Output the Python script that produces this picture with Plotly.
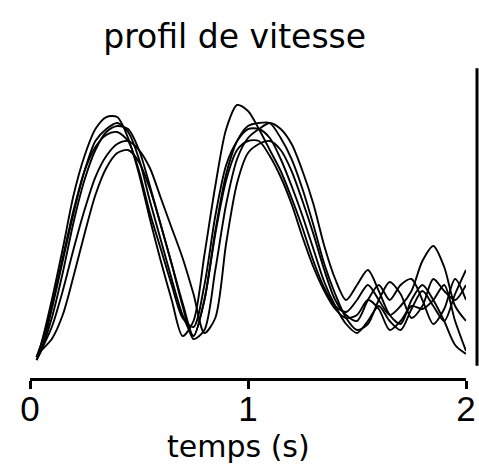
import plotly.graph_objects as go

# time grid (s)
t = [0.03, 0.05, 0.10, 0.15, 0.20, 0.25, 0.30, 0.35, 0.40, 0.45, 0.50,
     0.55, 0.60, 0.65, 0.70, 0.75, 0.80, 0.85, 0.90, 0.95, 1.00,
     1.05, 1.10, 1.15, 1.20, 1.25, 1.30, 1.35, 1.40, 1.45, 1.50,
     1.55, 1.60, 1.65, 1.70, 1.75, 1.80, 1.85, 1.90, 1.95, 2.00]

# velocity profiles (arbitrary units)
v1 = [7, 11, 26, 43, 61, 74, 83, 87, 87, 80, 68, 53, 39, 26, 14, 19, 41, 64, 83, 91, 89,
      83, 76, 69, 60, 50, 39, 30, 24, 22, 26, 31, 26, 21, 24, 29, 39, 44, 37, 24, 19]
v2 = [7, 9, 23, 39, 55, 69, 79, 83, 85, 82, 73, 59, 46, 33, 21, 14, 26, 49, 68, 79, 84,
      85, 85, 80, 73, 63, 51, 38, 28, 20, 16, 18, 26, 32, 28, 20, 24, 33, 29, 26, 31]
v3 = [6, 9, 20, 35, 52, 66, 76, 82, 84, 83, 76, 64, 51, 38, 24, 13, 16, 36, 58, 73, 80,
      83, 85, 83, 78, 69, 58, 44, 33, 26, 31, 36, 29, 21, 18, 26, 31, 26, 19, 11, 8]
v4 = [7, 11, 24, 40, 56, 69, 77, 81, 82, 79, 69, 55, 43, 31, 20, 17, 31, 54, 71, 79, 83,
      83, 80, 73, 64, 54, 43, 32, 24, 18, 15, 19, 24, 19, 16, 23, 29, 24, 19, 28, 36]
v5 = [6, 9, 17, 29, 43, 56, 67, 74, 78, 79, 76, 70, 60, 50, 40, 28, 15, 20, 45, 65, 75,
      78, 79, 76, 69, 59, 48, 36, 26, 21, 19, 26, 31, 26, 31, 33, 26, 18, 23, 33, 26]
v6 = [7, 9, 13, 21, 34, 48, 61, 70, 75, 76, 72, 63, 51, 38, 25, 14, 26, 48, 66, 76, 79,
      79, 74, 67, 58, 47, 37, 29, 23, 20, 21, 26, 23, 16, 19, 24, 23, 26, 31, 19, 9]

profiles = [v1, v2, v3, v4, v5, v6]
tick_vals = [0, 1, 2]
tick_text = ["0", "1", "2"]

fig = go.Figure()
for v in profiles:
    fig.add_trace(go.Scatter(x=t, y=v, mode="lines",
                             line=dict(color="black", width=1.9, shape="spline", smoothing=0.8),
                             showlegend=False, hoverinfo="skip"))

# plot area spans 30..477 px; the time axis occupies 30..466 px
x_dom_end = 436 / 447

fig.update_layout(
    width=479, height=466,
    margin=dict(l=30, r=2, t=70, b=88),
    paper_bgcolor="white", plot_bgcolor="white",
    title=dict(text="profil de vitesse", x=0.49, xanchor="center",
               y=1 - 36 / 466, yanchor="middle", yref="container",
               font=dict(family="DejaVu Sans", size=33, color="black")),
    xaxis=dict(domain=[0, x_dom_end], range=[0, 2], tickvals=tick_vals, ticktext=tick_text,
               showgrid=False, zeroline=False, automargin=False,
               showline=True, linecolor="black", linewidth=3,
               ticks="outside", ticklen=8, tickwidth=3, tickcolor="black",
               ticklabelstandoff=-10,
               tickfont=dict(family="Liberation Sans", size=35, color="black")),
    yaxis=dict(range=[0, 102.67], visible=False, showgrid=False, zeroline=False,
               automargin=False),
    shapes=[dict(type="line", xref="paper", yref="paper",
                 x0=1, x1=1, y0=0.04, y1=1.006,
                 line=dict(color="black", width=3))],
    annotations=[dict(text="temps (s)", xref="paper", yref="paper",
                      x=(238 - 30) / 447, y=-68 / 308, xanchor="center", yanchor="middle",
                      showarrow=False,
                      font=dict(family="DejaVu Sans", size=30, color="black"))],
)

fig.write_html("out.html", config={"displayModeBar": False},
               post_script="document.body.style.margin='0';")
